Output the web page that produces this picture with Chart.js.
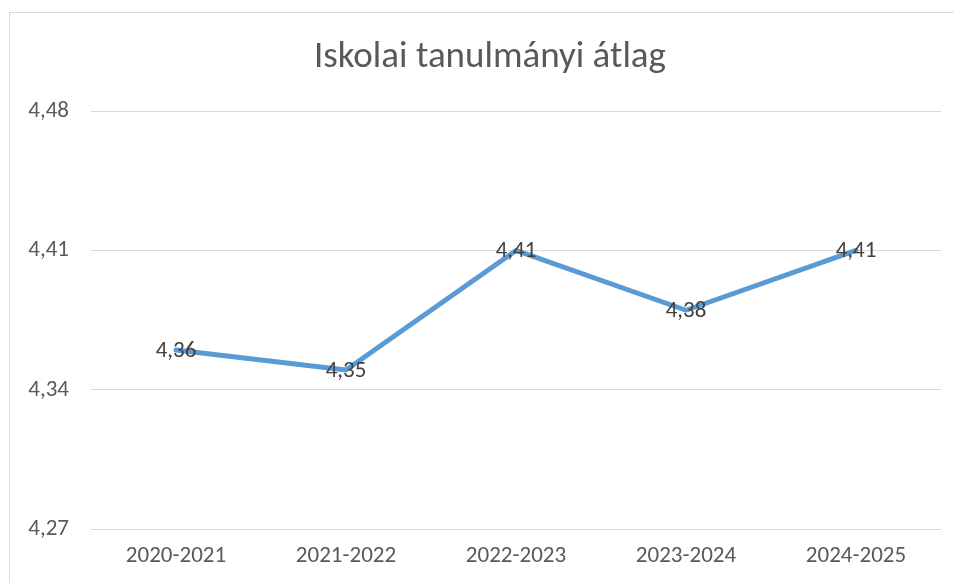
<!DOCTYPE html>
<html>
<head>
<meta charset="utf-8">
<script src="https://cdn.jsdelivr.net/npm/chart.js@4"></script>
<style>
  body { margin: 0; background: #fff; }
  #wrap { position: relative; width: 954px; height: 583px; }
</style>
</head>
<body>
<div id="wrap"><canvas id="lineChart"></canvas></div>
<script>
const labels = ["2020-2021", "2021-2022", "2022-2023", "2023-2024", "2024-2025"];
const averages = [4.36, 4.35, 4.41, 4.38, 4.41];
const yTicks = [4.27, 4.34, 4.41, 4.48];
const titleText = "Iskolai tanulmányi átlag";

const FONT = "Carlito, 'Liberation Sans Narrow', 'Open Sans', sans-serif";
const fmt = v => v.toFixed(2).replace(".", ",");

// chart frame + title, like the office export
const framePlugin = {
  id: "frame",
  beforeDraw(chart) {
    const ctx = chart.ctx;
    ctx.save();
    ctx.fillStyle = "#fff";
    ctx.fillRect(0, 0, chart.width, chart.height);
    ctx.strokeStyle = "#d9d9d9";
    ctx.lineWidth = 1;
    ctx.strokeRect(9.5, 12.5, 1000, 1000);
    ctx.font = "37px " + FONT;
    ctx.fillStyle = "#595959";
    ctx.textAlign = "center";
    ctx.textBaseline = "middle";
    ctx.fillText(titleText, 490, 58);
    ctx.restore();
  }
};

// value labels drawn centred on the points
const valueLabels = {
  id: "valueLabels",
  afterDatasetsDraw(chart) {
    const ctx = chart.ctx;
    const meta = chart.getDatasetMeta(0);
    ctx.save();
    ctx.font = "23px " + FONT;
    ctx.fillStyle = "#404040";
    ctx.textAlign = "center";
    ctx.textBaseline = "middle";
    meta.data.forEach((pt, i) => {
      ctx.fillText(fmt(averages[i]), pt.x, pt.y + 1);
    });
    ctx.restore();
  }
};

const CHART = document.getElementById("lineChart");
let lineChart = new Chart(CHART, {
  type: "line",
  data: {
    labels: labels,
    datasets: [
      {
        label: "Átlag",
        data: averages,
        borderColor: "#5B9BD5",
        borderWidth: 5,
        borderCapStyle: "round",
        borderJoinStyle: "round",
        pointRadius: 0,
        fill: false,
        tension: 0
      }
    ]
  },
  options: {
    responsive: true,
    maintainAspectRatio: false,
    animation: false,
    layout: { padding: { left: 0, right: 13, top: 111, bottom: 0 } },
    plugins: {
      legend: { display: false },
      tooltip: { enabled: false },
      title: { display: false }
    },
    scales: {
      x: {
        offset: true,
        grid: { display: false, drawTicks: false },
        border: { display: false },
        ticks: {
          color: "#595959",
          font: { family: FONT, size: 23 },
          padding: 13,
          maxRotation: 0
        }
      },
      y: {
        min: yTicks[0],
        max: yTicks[yTicks.length - 1],
        afterBuildTicks(scale) {
          scale.ticks = yTicks.map(v => ({ value: v }));
        },
        afterFit(scale) {
          scale.width = 91;
        },
        grid: { color: "#d9d9d9", lineWidth: 1, drawTicks: false },
        border: { display: false },
        ticks: {
          color: "#595959",
          font: { family: FONT, size: 23 },
          padding: 22,
          callback: v => fmt(v)
        }
      }
    }
  },
  plugins: [framePlugin, valueLabels]
});
</script>
</body>
</html>
